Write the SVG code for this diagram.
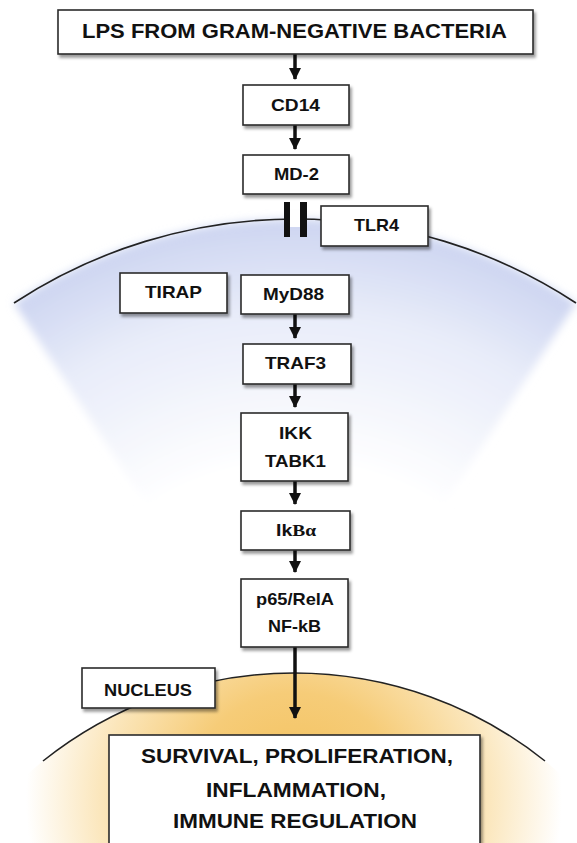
<svg xmlns="http://www.w3.org/2000/svg" width="577" height="843" viewBox="0 0 577 843">
<style>
.box{fill:#fff;stroke:#2a2a2a;stroke-width:1.6;filter:url(#sh)}
.t{font-family:"Liberation Sans",Arial,sans-serif;font-weight:bold;font-size:17px;fill:#111;text-anchor:middle}
.tb{font-size:19.5px}
.ser{font-family:"Liberation Serif","Times New Roman",serif;font-weight:bold}
.arr{stroke:#111;stroke-width:3.5;fill:none;marker-end:url(#ah)}
.mem{fill:none;stroke:#222;stroke-width:1.6}
</style>
<defs>
<filter id="sh" x="-10%" y="-10%" width="130%" height="140%">
<feDropShadow dx="2" dy="3" stdDeviation="1.5" flood-color="#000" flood-opacity="0.4"/>
</filter>
<filter id="soft" x="-20%" y="-20%" width="140%" height="140%">
<feGaussianBlur stdDeviation="4"/>
</filter>
<radialGradient id="gb" gradientUnits="userSpaceOnUse" cx="295" cy="731" r="512">
<stop offset="0.52" stop-color="#ffffff"/>
<stop offset="0.82" stop-color="#e8ecf9"/>
<stop offset="1" stop-color="#cdd5f1"/>
</radialGradient>
<radialGradient id="gy" gradientUnits="userSpaceOnUse" cx="294" cy="800" r="268">
<stop offset="0" stop-color="#f3bf58"/>
<stop offset="0.4" stop-color="#f6cc78"/>
<stop offset="0.72" stop-color="#fbe6bb"/>
<stop offset="1" stop-color="#ffffff"/>
</radialGradient>
<clipPath id="nclip"><circle cx="294" cy="1075" r="402"/></clipPath>
<marker id="ah" viewBox="0 0 12 12" refX="11" refY="6" markerWidth="12" markerHeight="12" markerUnits="userSpaceOnUse" orient="auto">
<path d="M0,0 L12,6 L0,12 Z" fill="#111"/>
</marker>
</defs>
<rect width="577" height="843" fill="#fff"/>
<g id="cell">
<path d="M14,303 A512,512 0 0 1 576,303 L295,731 Z" fill="url(#gb)" filter="url(#soft)"/>
<path class="mem" d="M14,303 A512,512 0 0 1 576,303"/>
</g>
<g id="nucleus-area">
<rect x="0" y="660" width="577" height="183" fill="url(#gy)" clip-path="url(#nclip)"/>
<path class="mem" d="M43,761 A402,402 0 0 1 545,761"/>
</g>
<g id="connectors">
<line class="arr" x1="295" y1="54" x2="295" y2="79"/>
<line class="arr" x1="295" y1="125" x2="295" y2="149"/>
<line class="arr" x1="295" y1="314" x2="295" y2="338"/>
<line class="arr" x1="295" y1="384" x2="295" y2="407"/>
<line class="arr" x1="295" y1="481" x2="295" y2="504"/>
<line class="arr" x1="295" y1="550" x2="295" y2="572"/>
<line class="arr" x1="295" y1="647" x2="295" y2="718"/>
</g>
<g id="lps"><rect class="box" x="58" y="10" width="475" height="44"/><text class="t tb" x="294.5" y="38" textLength="425" lengthAdjust="spacingAndGlyphs">LPS FROM GRAM-NEGATIVE BACTERIA</text></g>
<g id="cd14"><rect class="box" x="243" y="85" width="106" height="40"/><text class="t" x="295.5" y="111" textLength="49" lengthAdjust="spacingAndGlyphs">CD14</text></g>
<g id="md2"><rect class="box" x="243" y="155" width="106" height="39"/><text class="t" x="296.5" y="180" textLength="45" lengthAdjust="spacingAndGlyphs">MD-2</text></g>
<g id="tlr4">
<rect x="290" y="211" width="10" height="16" fill="#fff"/>
<rect x="284" y="202" width="6" height="35" fill="#111"/>
<rect x="300" y="202" width="7" height="35" fill="#111"/>
<rect class="box" x="321" y="206" width="107" height="40"/><text class="t" x="376.5" y="231" textLength="45" lengthAdjust="spacingAndGlyphs">TLR4</text></g>
<g id="tirap"><rect class="box" x="120" y="273" width="107" height="40"/><text class="t" x="173.5" y="298" textLength="57" lengthAdjust="spacingAndGlyphs">TIRAP</text></g>
<g id="myd88"><rect class="box" x="241" y="275" width="108" height="39"/><text class="t" x="293.5" y="300" textLength="61" lengthAdjust="spacingAndGlyphs">MyD88</text></g>
<g id="traf3"><rect class="box" x="243" y="344" width="108" height="40"/><text class="t" x="295.5" y="369" textLength="61" lengthAdjust="spacingAndGlyphs">TRAF3</text></g>
<g id="ikk"><rect class="box" x="241" y="413" width="107" height="68"/><text class="t" x="295.5" y="439" textLength="33" lengthAdjust="spacingAndGlyphs">IKK</text><text class="t" x="295.5" y="467" textLength="61" lengthAdjust="spacingAndGlyphs">TABK1</text></g>
<g id="ikba"><rect class="box" x="241" y="511" width="109" height="39"/><text class="t" x="296" y="536" textLength="40" lengthAdjust="spacingAndGlyphs">Ik<tspan class="ser">Bα</tspan></text></g>
<g id="nfkb"><rect class="box" x="241" y="579" width="107" height="68"/><text class="t" x="295" y="605" textLength="78" lengthAdjust="spacingAndGlyphs">p65/RelA</text><text class="t" x="294.5" y="632" textLength="53" lengthAdjust="spacingAndGlyphs">NF-kB</text></g>
<g id="nucleus"><rect class="box" x="82" y="668" width="133" height="40"/><text class="t" x="148" y="696" textLength="88" lengthAdjust="spacingAndGlyphs">NUCLEUS</text></g>
<g id="outcome"><rect class="box" x="109" y="735" width="371" height="130"/>
<text class="t tb" x="297" y="763" textLength="312" lengthAdjust="spacingAndGlyphs">SURVIVAL, PROLIFERATION,</text>
<text class="t tb" x="296" y="797" textLength="180" lengthAdjust="spacingAndGlyphs">INFLAMMATION,</text>
<text class="t tb" x="295" y="828" textLength="244" lengthAdjust="spacingAndGlyphs">IMMUNE REGULATION</text>
</g>
</svg>
